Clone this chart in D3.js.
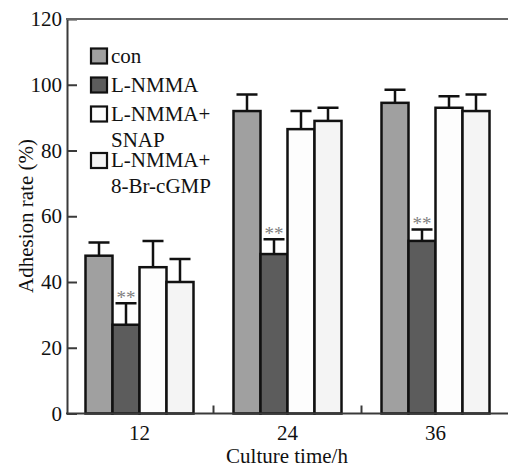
<!DOCTYPE html>
<html>
<head>
<meta charset="utf-8">
<script src="https://cdn.jsdelivr.net/npm/d3@7"></script>
<style>
  html, body { margin: 0; padding: 0; background: #fff; }
  svg { display: block; font-family: 'Liberation Serif', 'Times New Roman', serif; }
</style>
</head>
<body>
<div id="chart"></div>
<script>
// culture time groups and treatment series
const times = ['12', '24', '36'];
const series = ['con', 'L-NMMA', 'L-NMMA+SNAP', 'L-NMMA+8-Br-cGMP'];
const legend_lines = [['con'], ['L-NMMA'], ['L-NMMA+', 'SNAP'], ['L-NMMA+', '8-Br-cGMP']];
const series_colors = ['#a0a0a0', '#5c5c5c', '#fdfdfd', '#f4f4f4'];

// adhesion rate (%) per series, one value per time
const con_values = [48, 92, 94.5];
const nmma_values = [27, 48.5, 52.5];
const snap_values = [44.5, 86.5, 93];
const br_values = [40, 89, 92];

// upper error bar length
const con_err = [4, 5, 4];
const nmma_err = [6.5, 4.5, 3.5];
const snap_err = [8, 5.5, 3.5];
const br_err = [7, 4, 5];

// significance marks (on the L-NMMA bars)
const sig_marks = ['**', '**', '**'];

const y_ticks = [0, 20, 40, 60, 80, 100, 120];

const W = 508, H = 468;
const svg = d3.select('#chart').append('svg')
  .attr('width', W)
  .attr('height', H);

const x = d3.scaleBand(times, [65.5, 509.5]);
const x_sub = d3.scaleBand(series, [20, 128]);
const y = d3.scaleLinear([0, 120], [413.5, 19]);
const color = d3.scaleOrdinal(series, series_colors);

// flatten to one record per bar
const value_sets = [con_values, nmma_values, snap_values, br_values];
const err_sets = [con_err, nmma_err, snap_err, br_err];
const bars = [];
series.forEach((s, si) => {
  times.forEach((t, ti) => {
    bars.push({
      time: t,
      series: s,
      value: value_sets[si][ti],
      err: err_sets[si][ti],
      mark: s == 'L-NMMA' ? sig_marks[ti] : ''
    });
  });
});

const ink = '#111';
const axis_color = '#3a3a3a';

// bars
const g_bars = svg.append('g');
g_bars.selectAll('rect')
  .data(bars)
  .join('rect')
  .attr('x', d => x(d.time) + x_sub(d.series))
  .attr('y', d => y(d.value))
  .attr('width', x_sub.bandwidth())
  .attr('height', d => y(0) - y(d.value))
  .attr('fill', d => color(d.series))
  .attr('stroke', ink)
  .attr('stroke-width', 2.5);

// error bars (upper only)
const cap_half = 10.5;
const g_err = svg.append('g')
  .attr('stroke', ink)
  .attr('stroke-width', 2.5)
  .attr('fill', 'none');
g_err.selectAll('path')
  .data(bars)
  .join('path')
  .attr('d', d => {
    const cx = x(d.time) + x_sub(d.series) + x_sub.bandwidth() / 2;
    const y0 = y(d.value), y1 = y(d.value + d.err);
    return `M${cx},${y0}V${y1}M${cx - cap_half},${y1}H${cx + cap_half}`;
  });

// significance marks, sitting just above the cap
svg.append('g')
  .selectAll('text')
  .data(bars.filter(d => d.mark))
  .join('text')
  .attr('x', d => x(d.time) + x_sub(d.series) + x_sub.bandwidth() / 2)
  .attr('y', d => y(d.value + d.err) + 1)
  .attr('text-anchor', 'middle')
  .attr('font-size', 19)
  .attr('fill', '#808080')
  .text(d => d.mark);

// y axis, ticks pointing inward
const y_axis = svg.append('g')
  .attr('transform', `translate(67,0)`)
  .call(d3.axisLeft(y).tickValues(y_ticks).tickSizeInner(-10).tickSizeOuter(0).tickPadding(5));
y_axis.selectAll('text')
  .attr('font-size', 21)
  .attr('font-family', "'Liberation Serif', 'Times New Roman', serif")
  .attr('fill', ink);

// x axis labels
const x_axis = svg.append('g')
  .attr('transform', `translate(0,${y(0)})`)
  .call(d3.axisBottom(x).tickSize(0).tickPadding(12));
x_axis.select('.domain').remove();
x_axis.selectAll('text')
  .attr('font-size', 21)
  .attr('font-family', "'Liberation Serif', 'Times New Roman', serif")
  .attr('fill', ink);

// frame lines: bottom and top
svg.append('line')
  .attr('x1', 66).attr('x2', W)
  .attr('y1', y(0)).attr('y2', y(0))
  .attr('stroke', axis_color).attr('stroke-width', 2);
svg.append('line')
  .attr('x1', 66).attr('x2', W)
  .attr('y1', y(120)).attr('y2', y(120))
  .attr('stroke', '#666').attr('stroke-width', 2);
y_axis.selectAll('.domain, line')
  .attr('stroke', axis_color)
  .attr('stroke-width', 2);

// small ticks between groups
svg.append('g')
  .selectAll('line')
  .data(times.slice(1))
  .join('line')
  .attr('x1', d => x(d)).attr('x2', d => x(d))
  .attr('y1', y(0)).attr('y2', y(0) - 8)
  .attr('stroke', axis_color).attr('stroke-width', 2);

// axis titles
svg.append('text')
  .attr('x', 287)
  .attr('y', 463)
  .attr('text-anchor', 'middle')
  .attr('font-size', 21)
  .attr('fill', ink)
  .text('Culture time/h');

svg.append('text')
  .attr('transform', 'translate(33,216) rotate(-90)')
  .attr('text-anchor', 'middle')
  .attr('font-size', 21)
  .attr('fill', ink)
  .text('Adhesion rate (%)');

// legend
const legend_top = [48.5, 77.5, 106.5, 153];
const legend = svg.append('g');
const items = legend.selectAll('g')
  .data(series)
  .join('g')
  .attr('transform', (d, i) => `translate(91,${legend_top[i]})`);
items.append('rect')
  .attr('width', 16)
  .attr('height', 15)
  .attr('fill', d => color(d))
  .attr('stroke', ink)
  .attr('stroke-width', 2.2);
items.append('text')
  .attr('x', 20)
  .attr('font-size', 21)
  .attr('fill', ink)
  .selectAll('tspan')
  .data((d, i) => legend_lines[i])
  .join('tspan')
  .attr('x', 20)
  .attr('y', (d, i) => 14 + i * 26)
  .text(d => d);
</script>
</body>
</html>
